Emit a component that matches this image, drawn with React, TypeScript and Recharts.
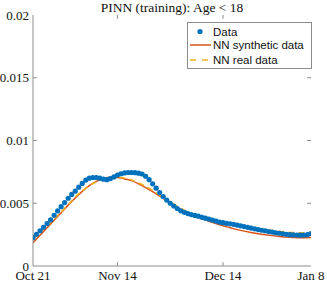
import React from 'react';
import { ComposedChart, Scatter, Line, XAxis, YAxis, ReferenceLine } from 'recharts';

// Daily observed values starting Oct 21 (day 0) through Jan 8 (day 79)
const observed = [
  0.00226, 0.00252, 0.00281, 0.00308, 0.00338, 0.00367, 0.00404, 0.00439, 0.00473, 0.00505,
  0.0054, 0.0057, 0.00596, 0.00628, 0.00658, 0.00685, 0.007, 0.00705, 0.00705, 0.007,
  0.00692, 0.00688, 0.00697, 0.0071, 0.00725, 0.00735, 0.00742, 0.00745, 0.00745, 0.00744,
  0.0074, 0.00733, 0.00715, 0.00688, 0.00655, 0.0062, 0.00585, 0.00553, 0.00525, 0.005,
  0.00478, 0.00458, 0.0044, 0.00428, 0.00418, 0.0041, 0.00403, 0.00397, 0.00388, 0.00381,
  0.00374, 0.00366, 0.00358, 0.0035, 0.00345, 0.0034, 0.00336, 0.00332, 0.00326, 0.0032,
  0.00314, 0.00308, 0.00302, 0.00296, 0.0029, 0.00285, 0.0028, 0.00274, 0.0027, 0.00265,
  0.00261, 0.00256, 0.00252, 0.0025, 0.00248, 0.00247, 0.00246, 0.00247, 0.0025, 0.00258,
];

// NN curves sampled every two days (plus final day)
const curveDays = [0, 2, 4, 6, 8, 10, 12, 14, 16, 18, 20, 22, 24, 26, 28, 30, 32, 34, 36, 38, 40, 42, 44, 46, 48, 50, 52, 54, 56, 58, 60, 62, 64, 66, 68, 70, 72, 74, 76, 78, 79];
const nnSynthetic = [
  0.00185, 0.00245, 0.00305, 0.00365, 0.00425, 0.00485, 0.00542, 0.00595, 0.0064, 0.00674,
  0.00697, 0.00708, 0.00706, 0.00694, 0.0068, 0.00655, 0.00625, 0.00592, 0.00556, 0.0052,
  0.00485, 0.0045, 0.00425, 0.004, 0.00378, 0.00357, 0.00338, 0.0032, 0.00305, 0.0029,
  0.00278, 0.00267, 0.00257, 0.00249, 0.00242, 0.00236, 0.00231, 0.00228, 0.00226, 0.00226, 0.00227,
];
const nnReal = [
  0.0021, 0.00265, 0.0032, 0.00375, 0.0043, 0.0049, 0.0055, 0.006, 0.0064, 0.0067,
  0.0069, 0.00705, 0.00708, 0.007, 0.00685, 0.00662, 0.00635, 0.00602, 0.00565, 0.00528,
  0.00492, 0.0046, 0.00432, 0.0041, 0.00392, 0.00375, 0.00362, 0.0035, 0.0034, 0.0033,
  0.00319, 0.00308, 0.00298, 0.0029, 0.00283, 0.00277, 0.00271, 0.00267, 0.00265, 0.00266, 0.00268,
];

const xTickDays = [0, 24, 54, 79];
const xTickLabels = ['Oct 21', 'Nov 14', 'Dec 14', 'Jan 8'];
const yTicks = [0, 0.005, 0.01, 0.015, 0.02];
const yTickLabels = ['0', '0.005', '0.01', '0.015', '0.02'];

const obsData = observed.map((v, i) => ({ day: i, v }));
const synData = curveDays.map((d, i) => ({ day: d, v: nnSynthetic[i] }));
const realData = curveDays.map((d, i) => ({ day: d, v: nnReal[i] }));

const BLUE = '#0072BD';
const RED = '#D95319';
const YELLOW = '#EDB120';
const AXIS = '#8c8c8c';
const SERIF = '"Liberation Serif", "Times New Roman", serif';
const SANS = '"Liberation Sans", Arial, sans-serif';

const LegendBox = () => (
  <svg width={125} height={47} style={{ display: 'block' }}>
    <rect x={0.5} y={0.5} width={124} height={46} fill="#fff" stroke={AXIS} strokeWidth={1} />
    <circle cx={13} cy={9.5} r={2.6} fill={BLUE} />
    <text x={26} y={13.5} fontFamily={SANS} fontSize={11.5} fill="#111">Data</text>
    <line x1={3} x2={24} y1={23} y2={23} stroke={RED} strokeWidth={1.5} />
    <text x={26} y={27} fontFamily={SANS} fontSize={11.5} fill="#111">NN synthetic data</text>
    <line x1={3} x2={24} y1={38} y2={38} stroke={YELLOW} strokeWidth={1.5} strokeDasharray="6 6" />
    <text x={26} y={42} fontFamily={SANS} fontSize={11.5} fill="#111">NN real data</text>
  </svg>
);

export default function App() {
  return (
    <div style={{ position: 'absolute', left: 0, top: 0, width: 327, height: 283, background: '#fff' }}>
      <div
        style={{
          position: 'absolute', left: 33, width: 278, top: 0, textAlign: 'center',
          fontFamily: SERIF, fontSize: 13.5, lineHeight: '15px', color: '#111', whiteSpace: 'nowrap',
        }}
      >
        PINN (training): Age &lt; 18
      </div>
      <ComposedChart width={327} height={283} margin={{ top: 15, right: 16, bottom: 0, left: 0 }}>
        <XAxis
          type="number"
          dataKey="day"
          domain={[0, 79]}
          ticks={xTickDays}
          interval={0}
          tickFormatter={(v: number) => xTickLabels[xTickDays.indexOf(v)]}
          axisLine={{ stroke: AXIS }}
          tickLine={false}
          tickSize={0}
          tickMargin={5}
          height={17}
          tick={{ fontFamily: SERIF, fontSize: 13, fill: '#111' }}
          allowDataOverflow
        />
        <XAxis xAxisId="top" orientation="top" type="number" domain={[0, 79]} tick={false} tickLine={false} axisLine={{ stroke: AXIS }} height={0} />
        <YAxis
          type="number"
          domain={[0, 0.02]}
          ticks={yTicks}
          interval={0}
          tickFormatter={(v: number) => yTickLabels[yTicks.indexOf(v)]}
          axisLine={{ stroke: AXIS }}
          tickLine={false}
          tickSize={0}
          tickMargin={4}
          width={33}
          tick={{ fontFamily: SERIF, fontSize: 13, fill: '#111' }}
          allowDataOverflow
        />
        <YAxis yAxisId="right" orientation="right" type="number" domain={[0, 0.02]} tick={false} tickLine={false} axisLine={{ stroke: AXIS }} width={0} />
        {yTicks.slice(1, 4).map((t) => (
          <ReferenceLine key={'yl' + t} segment={[{ x: 0, y: t }, { x: 1.1, y: t }]} stroke={AXIS} ifOverflow="visible" />
        ))}
        {yTicks.slice(1, 4).map((t) => (
          <ReferenceLine key={'yr' + t} segment={[{ x: 79, y: t }, { x: 77.9, y: t }]} stroke={AXIS} ifOverflow="visible" />
        ))}
        {xTickDays.slice(1, 3).map((t) => (
          <ReferenceLine key={'xb' + t} segment={[{ x: t, y: 0 }, { x: t, y: 0.0003 }]} stroke={AXIS} ifOverflow="visible" />
        ))}
        {xTickDays.slice(1, 3).map((t) => (
          <ReferenceLine key={'xt' + t} segment={[{ x: t, y: 0.02 }, { x: t, y: 0.0197 }]} stroke={AXIS} ifOverflow="visible" />
        ))}
        <Scatter
          data={obsData}
          dataKey="v"
          isAnimationActive={false}
          shape={(p: any) => <circle cx={p.cx} cy={p.cy} r={2.6} fill={BLUE} />}
        />
        <Line data={synData} dataKey="v" type="monotone" stroke={RED} strokeWidth={1.5} dot={false} isAnimationActive={false} />
        <Line data={realData} dataKey="v" type="monotone" stroke={YELLOW} strokeWidth={1.5} strokeDasharray="6 4" dot={false} isAnimationActive={false} />
      </ComposedChart>
      <div style={{ position: 'absolute', left: 187, top: 22 }}>
        <LegendBox />
      </div>
    </div>
  );
}
